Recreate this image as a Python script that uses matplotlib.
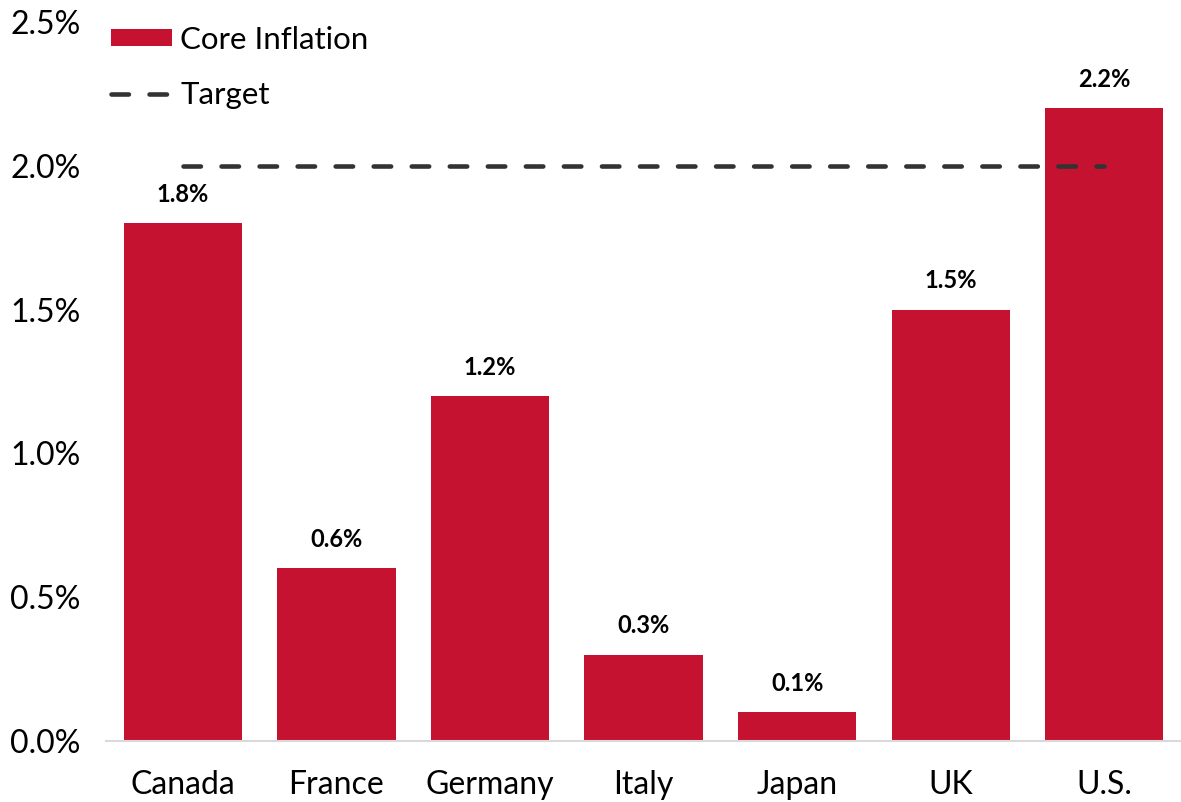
import matplotlib.pyplot as plt
from matplotlib.ticker import FuncFormatter

countries = ['Canada', 'France', 'Germany', 'Italy', 'Japan', 'UK', 'U.S.']
core_inflation = [1.8, 0.6, 1.2, 0.3, 0.1, 1.5, 2.2]
target = 2.0

plt.rcParams['font.family'] = ['Lato', 'DejaVu Sans']

fig = plt.figure(figsize=(11.81, 8.02), dpi=100)
ax = fig.add_axes([0.0898, 0.0761, 0.9102, 0.8965])

x = list(range(len(countries)))
bars = ax.bar(x, core_inflation, width=0.77, color='#C41230', label='Core Inflation', zorder=2)
line, = ax.plot([x[0], x[-1]], [target, target], color='#333333', lw=3.3, ls=(0, (3.8, 4.5)),
                dash_capstyle='round', label='Target', zorder=3)

for xi, v in zip(x, core_inflation):
    ax.text(xi, v + 0.06, f'{v:.1f}%', ha='center', va='bottom',
            fontsize=17, fontweight='bold')

ax.set_xlim(-0.5, 6.5)
ax.set_ylim(0, 2.5)
ax.set_yticks([0, 0.5, 1.0, 1.5, 2.0, 2.5])
ax.yaxis.set_major_formatter(FuncFormatter(lambda v, p: f'{v:.1f}%'))
ax.set_xticks(x)
ax.set_xticklabels(countries)
ax.tick_params(axis='both', length=0, labelsize=23)
ax.tick_params(axis='y', pad=18.5)
ax.tick_params(axis='x', pad=21)

for s in ['top', 'right', 'left']:
    ax.spines[s].set_visible(False)
ax.spines['bottom'].set_color('#d9d9d9')
ax.spines['bottom'].set_linewidth(1.5)

ax.legend(handles=[bars, line], loc='upper left', bbox_to_anchor=(0.005, 0.995),
          frameon=False, fontsize=22.5, handlelength=1.95, handleheight=0.5,
          handletextpad=0.26, labelspacing=0.88, borderpad=0, borderaxespad=0)

fig.savefig('out.png', dpi=100)
